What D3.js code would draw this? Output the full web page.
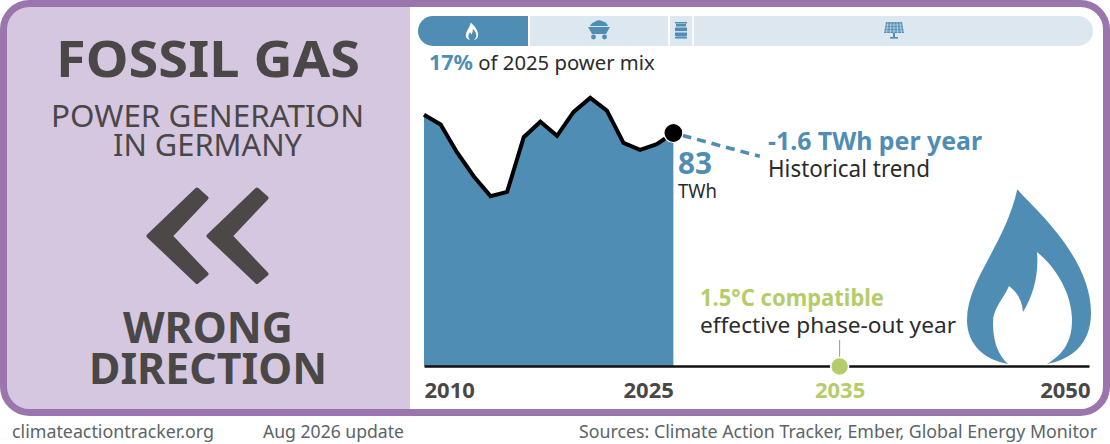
<!DOCTYPE html>
<html><head><meta charset="utf-8">
<script src="https://cdn.jsdelivr.net/npm/d3@7/dist/d3.min.js"></script>
<style>html,body{margin:0;padding:0;background:#fff}svg{display:block}text{font-family:"Noto Sans",sans-serif}</style>
</head><body><div id="c"></div>
<script>
const years=[2010,2011,2012,2013,2014,2015,2016,2017,2018,2019,2020,2021,2022,2023,2024,2025];
const gasTWh=[89.5,86,76,67.5,60.5,62,81.5,87,82,90.5,95.5,91,79.5,77,79,83];
const mixNames=["gas","coal","oil","renewables"];
const mixShares=[16.45,20.75,3.55,59.25];
const axisTicks=[2010,2025,2035,2050];
const trendPerYear=-1.6, trendYears=[2025.55,2030.2];
const phaseOutYear=2035;

const W=1110,H=444;
const BLUE="#4f8db5",LIGHT="#dce7f0",GREEN="#b4cd6a",DARK="#4a4747",INK="#2b2b2b",FOOT="#5b6468",PURPLE="#9b76ae",LILAC="#d6c7e0";
const svg=d3.select("#c").append("svg").attr("width",W).attr("height",H).attr("viewBox",`0 0 ${W} ${H}`);

// frame + left panel
svg.append("rect").attr("x",3.5).attr("y",3.5).attr("width",W-7).attr("height",409).attr("rx",26).attr("fill","#fff");
svg.append("path").attr("d","M410,3.5 H29.5 A26,26 0 0 0 3.5,29.5 V386.5 A26,26 0 0 0 29.5,412.5 H410 Z").attr("fill",LILAC);
svg.append("rect").attr("x",3.5).attr("y",3.5).attr("width",W-7).attr("height",409).attr("rx",26).attr("fill","none").attr("stroke",PURPLE).attr("stroke-width",7);

function txt(x,y,s,size,fill,o={}){
  const t=svg.append("text").attr("x",x).attr("y",y).attr("font-size",size).attr("fill",fill)
    .attr("font-weight",o.w||400).attr("text-anchor",o.a||"start").text(s);
  if(o.len)t.attr("textLength",o.len).attr("lengthAdjust","spacingAndGlyphs");
  return t;
}
txt(208,77,"FOSSIL GAS",50,DARK,{w:700,a:"middle",len:304});
txt(207.5,127,"POWER GENERATION",31,DARK,{a:"middle",len:313});
txt(207.5,156,"IN GERMANY",31,DARK,{a:"middle",len:189});
txt(208,343,"WRONG",43,DARK,{w:700,a:"middle",len:170});
txt(208,384,"DIRECTION",43,DARK,{w:700,a:"middle",len:238});

// chevrons
[0,60].forEach(dx=>{
  svg.append("path").attr("transform",`translate(${dx},0)`)
   .attr("d","M148.5,236 L197,189.5 L206.5,198 L170.5,236 L206.5,274 L197,282 Z")
   .attr("fill","#4c4848").attr("stroke","#4c4848").attr("stroke-width",4).attr("stroke-linejoin","round");
});

// power mix bar
const mixX=d3.scaleLinear().domain([0,d3.sum(mixShares)]).range([418,1093]);
const stack=d3.cumsum(mixShares);
const segX=i=>[mixX(i?stack[i-1]:0)+(i?1:0),mixX(stack[i])-(i<3?1:0)];
const barY=16,barH=30,r=15;
mixNames.forEach((n,i)=>{
  const [a,b]=segX(i);
  let d;
  if(i===0)d=`M${b},${barY} H${a+r} A${r},${r} 0 0 0 ${a+r},${barY+barH} H${b} Z`;
  else if(i===3)d=`M${a},${barY} H${b-r} A${r},${r} 0 0 1 ${b-r},${barY+barH} H${a} Z`;
  else d=`M${a},${barY} H${b} V${barY+barH} H${a} Z`;
  svg.append("path").attr("d",d).attr("fill",i===0?BLUE:LIGHT);
});
const t17=txt(429,70,"",21.5,INK);
t17.append("tspan").attr("font-weight",700).attr("fill",BLUE).text("17%");
t17.append("tspan").attr("font-size",20.3).text(" of 2025 power mix");

// flame shapes
const flameOuter="M1017.3,189.3 C1030,205 1091,255 1091,313 C1091,345 1070,360 1047,364 L1008,364 C985,360 967,345 967,320 C967,280 1005,245 1017.3,189.3 Z";
const flameInner="M1008,364 C995,352 993,335 993,322 C993,308 1003,300 1009,286 C1017,292 1022,300 1023,312 C1033,296 1039,275 1037,252 C1057,268 1072,295 1072,320 C1072,345 1060,356 1047,364 Z";
function flame(tx,ty,k,c1,c2){
  const g=svg.append("g").attr("transform",`translate(${tx},${ty}) scale(${k})`);
  g.append("path").attr("d",flameOuter).attr("fill",c1);
  g.append("path").attr("d",flameInner).attr("fill",c2);
}
flame(0,0,1,BLUE,"#fff");
flame(472-1029*0.1,22.5-189*0.1,0.1,"#fff",BLUE);

// coal cart
const cart=svg.append("g").attr("transform","translate(599,30)").attr("fill",BLUE);
cart.append("path").attr("d","M-11,-3 H11 L7,4 H-7 Z");
cart.append("path").attr("d","M-9,-4 C-7,-8 -4,-8 -3,-9 C0,-11 4,-9 5,-8 C7,-8 8,-6 9,-4 Z");
cart.append("circle").attr("cx",-5.5).attr("cy",7).attr("r",2.4);
cart.append("circle").attr("cx",5.5).attr("cy",7).attr("r",2.4);
// oil barrel
const barrel=svg.append("g").attr("transform","translate(681,30)").attr("fill",BLUE);
[-8,-2.5,2.5,7].forEach((y,i)=>barrel.append("rect").attr("x",-6).attr("y",y).attr("width",12).attr("height",i==1||i==2?3.6:1.5));
barrel.append("rect").attr("x",-5).attr("y",-6).attr("width",10).attr("height",2.5);
barrel.append("rect").attr("x",-5).attr("y",4.5).attr("width",10).attr("height",2);
// solar panel
const solar=svg.append("g").attr("transform","translate(894,30)");
solar.append("path").attr("d","M-8,-8 H8 L10,3 H-10 Z").attr("fill",BLUE);
d3.range(-6,8,3).forEach(x=>solar.append("path").attr("d",`M${x},-8 L${x*1.25},3`).attr("stroke",LIGHT).attr("stroke-width",.6));
[-5,-2,1].forEach(y=>solar.append("path").attr("d",`M-10,${y} H10`).attr("stroke",LIGHT).attr("stroke-width",.6));
solar.append("rect").attr("x",-1).attr("y",3).attr("width",2).attr("height",5).attr("fill",BLUE);
solar.append("rect").attr("x",-4).attr("y",7).attr("width",8).attr("height",1.6).attr("fill",BLUE);

// scales
const x=d3.scaleLinear().domain([2010,2050]).range([424,1089]);
const y=d3.scaleLinear().domain([0,83]).range([366,133]);
const pts=years.map((yr,i)=>({yr,v:gasTWh[i]}));
svg.append("path").datum(pts).attr("fill",BLUE)
  .attr("d",d3.area().x(d=>x(d.yr)).y0(y(0)).y1(d=>y(d.v)));
svg.append("path").datum(pts).attr("fill","none").attr("stroke","#000").attr("stroke-width",4).attr("stroke-linejoin","miter")
  .attr("d",d3.line().x(d=>x(d.yr)).y(d=>y(d.v)));

// trend
const last=gasTWh[gasTWh.length-1], lastYr=years[years.length-1];
svg.append("path").datum(trendYears).attr("fill","none").attr("stroke",BLUE).attr("stroke-width",3.6).attr("stroke-dasharray","9 6")
  .attr("d",d3.line().x(d=>x(d)).y(d=>y(last+trendPerYear*(d-lastYr))));
svg.append("circle").attr("cx",x(lastYr)).attr("cy",y(last)).attr("r",9.5).attr("fill","#000").attr("stroke","#fff").attr("stroke-width",1.2);

// axis
const axis=svg.append("g").attr("transform",`translate(0,${y(0)})`)
  .call(d3.axisBottom(x).tickValues(axisTicks).tickSize(0).tickPadding(0).tickFormat(d3.format("d")));
axis.select(".domain").attr("stroke","#111").attr("stroke-width",2.6);
axis.selectAll("text").attr("font-size",22).attr("font-weight",700).attr("font-family",'"Noto Sans",sans-serif')
  .attr("fill",d=>d===phaseOutYear?GREEN:DARK).attr("y",32).attr("dy",0)
  .attr("text-anchor",d=>d===2010?"start":d===2025||d===2050?"end":"middle")
  .attr("dx",d=>d===2050?1:0);

// phase-out marker
svg.append("line").attr("x1",x(phaseOutYear)).attr("x2",x(phaseOutYear)).attr("y1",340).attr("y2",357).attr("stroke","#999").attr("stroke-width",1);
svg.append("circle").attr("cx",x(phaseOutYear)).attr("cy",y(0)+.5).attr("r",9).attr("fill",GREEN).attr("stroke","#fff").attr("stroke-width",1.5);

// labels
txt(678,173.5,"83",31,BLUE,{w:700,len:34});
txt(678,198,"TWh",19,INK,{len:39});
txt(768,150,"-1.6 TWh per year",25,BLUE,{w:700,len:214});
txt(768,177,"Historical trend",23,INK,{len:162});
txt(700,306,"1.5°C compatible",23,GREEN,{w:700,len:184});
txt(700,333,"effective phase-out year",22,INK,{len:256});

// footer
txt(12,437.5,"climateactiontracker.org",18,FOOT,{len:202});
txt(263,437.5,"Aug 2026 update",18,FOOT,{len:141});
txt(1097,437.5,"Sources: Climate Action Tracker, Ember, Global Energy Monitor",18,FOOT,{a:"end",len:518});
</script></body></html>
